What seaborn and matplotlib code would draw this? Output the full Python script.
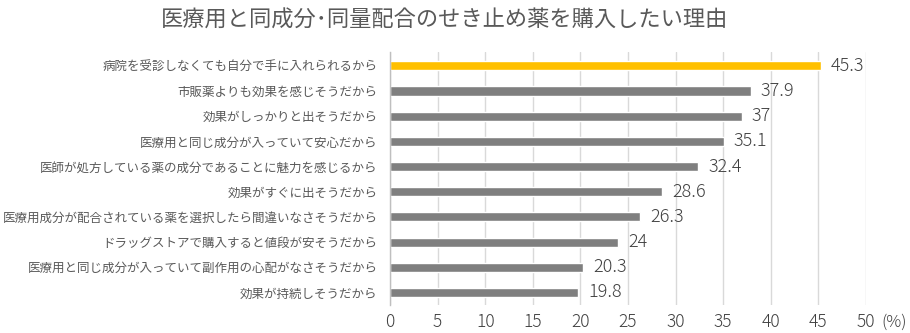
import matplotlib
matplotlib.use("Agg")
import matplotlib.pyplot as plt
import matplotlib.transforms as mtransforms
import seaborn as sns

categories = [
    "病院を受診しなくても自分で手に入れられるから",
    "市販薬よりも効果を感じそうだから",
    "効果がしっかりと出そうだから",
    "医療用と同じ成分が入っていて安心だから",
    "医師が処方している薬の成分であることに魅力を感じるから",
    "効果がすぐに出そうだから",
    "医療用成分が配合されている薬を選択したら間違いなさそうだから",
    "ドラッグストアで購入すると値段が安そうだから",
    "医療用と同じ成分が入っていて副作用の心配がなさそうだから",
    "効果が持続しそうだから",
]
values = [45.3, 37.9, 37, 35.1, 32.4, 28.6, 26.3, 24, 20.3, 19.8]
value_labels = ["45.3", "37.9", "37", "35.1", "32.4", "28.6", "26.3", "24", "20.3", "19.8"]
xticks = [0, 5, 10, 15, 20, 25, 30, 35, 40, 45, 50]
title = "医療用と同成分･同量配合のせき止め薬を購入したい理由"

sns.set_theme(style="white")
plt.rcParams["font.family"] = ["Noto Sans CJK JP", "DejaVu Sans"]

colors = ["#FFC000"] + ["#7F7F7F"] * (len(categories) - 1)

fig = plt.figure(figsize=(9.1, 3.33), dpi=100)
ax = fig.add_axes([390 / 910, 1 - 305 / 333, 476 / 910, (305 - 52) / 333])

sns.barplot(x=values, y=categories, hue=categories, palette=colors,
            legend=False, width=0.36, ax=ax, saturation=1, dodge=False)

ax.set_xlim(0, 50)
ax.set_ylim(9.5, -0.55)
ax.set_xticks(xticks)
ax.set_xticklabels([str(t) for t in xticks], fontsize=12.5, color="#404040",
                   fontweight="light")
ax.tick_params(axis="x", length=0, pad=6)
ax.tick_params(axis="y", length=0, pad=9, labelsize=9, labelcolor="#595959")
ax.set_xlabel("")
ax.set_ylabel("")
ax.xaxis.grid(True, color="#D9D9D9", linewidth=1)
ax.set_axisbelow(True)
for s in ["top", "right", "bottom"]:
    ax.spines[s].set_visible(False)
ax.spines["left"].set_color("#BFBFBF")
ax.spines["left"].set_linewidth(1)

for i, (v, lab) in enumerate(zip(values, value_labels)):
    ax.annotate(lab, (v, i), xytext=(7, 0), textcoords="offset points",
                va="center", ha="left", fontsize=13, color="#404040",
                fontweight="light")

trans = mtransforms.blended_transform_factory(ax.transData, ax.transAxes)
ax.annotate("(%)", (50, 0), xycoords=trans, xytext=(11, -6), textcoords="offset points",
            va="top", ha="left", fontsize=12, color="#404040", fontweight="light")

fig.text(445 / 910, 1 - 20 / 333, title, ha="center", va="center",
         fontsize=16, color="#595959")

fig.savefig("out.png", dpi=100)
